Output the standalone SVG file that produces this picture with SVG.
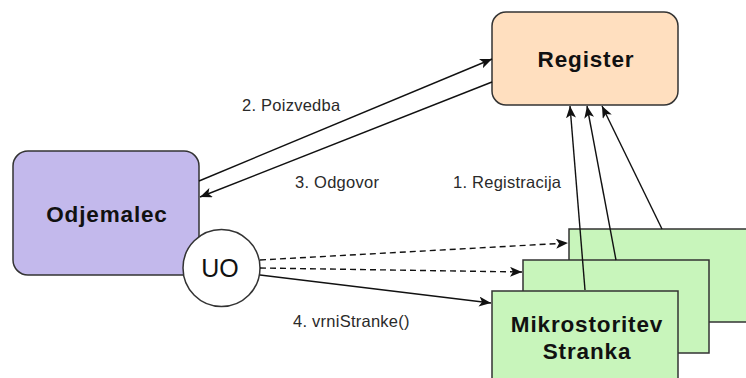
<svg xmlns="http://www.w3.org/2000/svg" width="746" height="378" viewBox="0 0 746 378">
  <defs>
    <style>
      .box { stroke: #333333; stroke-width: 1.5; }
      .register { fill: #ffdfbf; }
      .client { fill: #c3b9ec; }
      .service { fill: #c8f5bb; }
      .title { font-family: "Liberation Sans", Arial, sans-serif; font-weight: bold; font-size: 22.5px; letter-spacing: 0.85px; fill: #111111; text-anchor: middle; }
      .label { font-family: "Liberation Sans", Arial, sans-serif; font-size: 16.5px; letter-spacing: 0.25px; fill: #2a2a2a; }
      .edge { fill: none; stroke: #111111; stroke-width: 1.4; }
      .dashed { stroke-dasharray: 6 4; }
    </style>
    <marker id="arrow" viewBox="0 0 12 10" refX="12" refY="5" markerWidth="12" markerHeight="10" markerUnits="userSpaceOnUse" orient="auto">
      <path d="M0,0 L12,5 L0,10 L3,5 Z" fill="#111111"/>
    </marker>
  </defs>

  <rect width="746" height="378" fill="#ffffff"/>

  <!-- Register -->
  <g id="register">
    <rect class="box register" x="492" y="12" width="186" height="93" rx="14"/>
    <text class="title" x="586" y="67">Register</text>
  </g>

  <!-- Client -->
  <g id="odjemalec">
    <rect class="box client" x="13" y="151" width="186" height="124" rx="15"/>
    <text class="title" x="107" y="222">Odjemalec</text>
  </g>

  <!-- Microservice instances, back to front -->
  <g id="stranka-3">
    <rect class="box service" x="569" y="229" width="186" height="93"/>
  </g>
  <g id="stranka-2">
    <rect class="box service" x="523" y="260" width="186" height="93"/>
  </g>
  <g id="stranka-1">
    <rect class="box service" x="492" y="291" width="186" height="93"/>
    <text class="title" x="587" y="332">Mikrostoritev</text>
    <text class="title" x="587" y="359">Stranka</text>
  </g>

  <!-- Client-side load balancer -->
  <g id="uo">
    <circle class="box" cx="221.5" cy="268" r="38.5" fill="#ffffff"/>
    <text x="220" y="277" font-family="'Liberation Sans', Arial, sans-serif" font-size="25" fill="#111111" text-anchor="middle">UO</text>
  </g>

  <!-- Connectors -->
  <g id="connectors">
    <line class="edge" x1="199" y1="181" x2="492" y2="59" marker-end="url(#arrow)"/>
    <line class="edge" x1="492" y1="82" x2="200" y2="197" marker-end="url(#arrow)"/>

    <line class="edge" x1="585" y1="290" x2="570" y2="106" marker-end="url(#arrow)"/>
    <line class="edge" x1="616" y1="260" x2="587" y2="106" marker-end="url(#arrow)"/>
    <line class="edge" x1="662" y1="229" x2="602" y2="106" marker-end="url(#arrow)"/>

    <line class="edge dashed" x1="260" y1="260" x2="568" y2="243" marker-end="url(#arrow)"/>
    <line class="edge dashed" x1="260" y1="268" x2="522" y2="272" marker-end="url(#arrow)"/>
    <line class="edge" x1="260" y1="275" x2="491" y2="303" marker-end="url(#arrow)"/>
  </g>

  <!-- Edge labels -->
  <g id="labels">
    <text class="label" x="242" y="111">2. Poizvedba</text>
    <text class="label" x="295" y="188">3. Odgovor</text>
    <text class="label" x="453" y="188">1. Registracija</text>
    <text class="label" x="293" y="327">4. vrniStranke()</text>
  </g>
</svg>
